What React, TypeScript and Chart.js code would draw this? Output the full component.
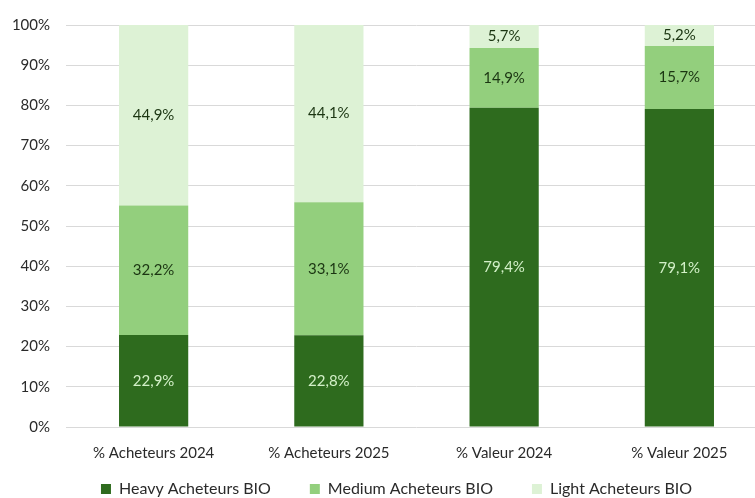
import React, { useEffect, useRef } from "react";
import { Chart, registerables } from "chart.js";

Chart.register(...registerables);

const categories = ["% Acheteurs 2024", "% Acheteurs 2025", "% Valeur 2024", "% Valeur 2025"];
const heavyValues = [22.9, 22.8, 79.4, 79.1];
const mediumValues = [32.2, 33.1, 14.9, 15.7];
const lightValues = [44.9, 44.1, 5.7, 5.2];
const seriesNames = ["Heavy Acheteurs BIO", "Medium Acheteurs BIO", "Light Acheteurs BIO"];
const yTicks = [0, 10, 20, 30, 40, 50, 60, 70, 80, 90, 100];

const FONT = "Lato, 'Open Sans', sans-serif";
const labelColors = ["#d3f0c8", "#1b3512", "#1b3512"];

const dataLabelPlugin = {
  id: "segmentLabels",
  afterDatasetsDraw(chart: any) {
    const ctx = chart.ctx;
    ctx.save();
    ctx.font = `15px ${FONT}`;
    ctx.textAlign = "center";
    ctx.textBaseline = "middle";
    chart.data.datasets.forEach((ds: any, di: number) => {
      const meta = chart.getDatasetMeta(di);
      meta.data.forEach((el: any, i: number) => {
        const v = ds.data[i];
        const y = (el.y + el.base) / 2;
        ctx.fillStyle = labelColors[di];
        ctx.fillText(v.toFixed(1).replace(".", ",") + "%", el.x, y);
      });
    });
    ctx.restore();
  },
};

const legendShiftPlugin = {
  id: "legendShift",
  afterLayout(chart: any) {
    const lg = chart.legend;
    if (!lg) return;
    const dx = 9;
    const dy = -37;
    lg.left += dx;
    lg.right += dx;
    lg.top += dy;
    lg.bottom += dy;
  },
};

export default function App() {
  const ref = useRef<HTMLCanvasElement>(null);
  useEffect(() => {
    if (!ref.current) return;
    const chart = new Chart(ref.current, {
      type: "bar",
      data: {
        labels: categories,
        datasets: [
          { label: seriesNames[0], data: heavyValues, backgroundColor: "#2e6b1e" },
          { label: seriesNames[1], data: mediumValues, backgroundColor: "#93cf7d" },
          { label: seriesNames[2], data: lightValues, backgroundColor: "#ddf2d5" },
        ],
      },
      options: {
        responsive: false,
        animation: false,
        devicePixelRatio: 1,
        layout: { padding: { top: 25, left: 8, right: 3, bottom: 0 } },
        datasets: { bar: { categoryPercentage: 1, barPercentage: 0.395 } } as any,
        plugins: {
          legend: {
            position: "bottom",
            labels: {
              boxWidth: 10,
              boxHeight: 10,
              padding: 39,
              color: "#2a2a2a",
              font: { family: FONT, size: 16 },
            },
          },
          tooltip: { enabled: false },
        },
        scales: {
          x: {
            stacked: true,
            grid: { display: false, drawTicks: false },
            border: { display: false },
            ticks: { color: "#2a2a2a", font: { family: FONT, size: 15 }, padding: 17, maxRotation: 0 },
          },
          y: {
            stacked: true,
            min: 0,
            max: 100,
            afterBuildTicks: (s: any) => { s.ticks = yTicks.map((v) => ({ value: v })); },
            grid: { color: "#d9d9d9", drawTicks: false },
            border: { display: false },
            ticks: {
              color: "#2a2a2a",
              font: { family: FONT, size: 15 },
              padding: 16,
              callback: (v: any) => v + "%",
            },
            afterFit: (s: any) => { s.width = 58; },
          },
        } as any,
      },
      plugins: [dataLabelPlugin, legendShiftPlugin],
    });
    return () => chart.destroy();
  }, []);
  return (
    <div style={{ position: "fixed", left: 0, top: 0, width: 755, height: 498, overflow: "hidden", background: "#fff" }}>
      <canvas ref={ref} width={770} height={544} style={{ display: "block" }} />
    </div>
  );
}
